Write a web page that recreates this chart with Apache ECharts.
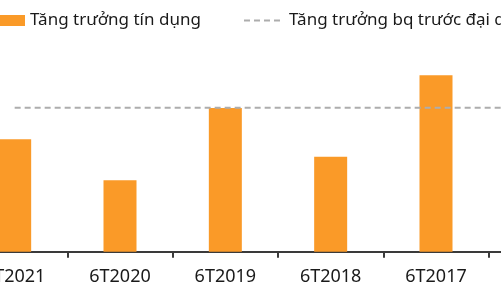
<!DOCTYPE html>
<html><head><meta charset="utf-8">
<script src="https://cdn.jsdelivr.net/npm/echarts@6/dist/echarts.min.js"></script>
<style>
html,body{margin:0;padding:0;width:501px;height:300px;overflow:hidden;background:#fff;position:relative}
#c{position:absolute;left:-38px;top:0;width:640px;height:300px}
</style></head><body>
<div id="c"></div>
<script>
const categories = ['6T2021','6T2020','6T2019','6T2018','6T2017','6T2016'];
const creditGrowth = [5.62, 3.57, 7.19, 4.75, 8.82, null];
const avgPreCovid = [7.2, 7.2, 7.2, 7.2, 7.2, 7.2];
const seriesNames = ['Tăng trưởng tín dụng', 'Tăng trưởng bq trước đại dịch'];

const FONT = 'Noto Sans';
const chart = echarts.init(document.getElementById('c'), null, {renderer:'canvas'});
chart.setOption({
  animation: false,
  textStyle: {fontFamily: FONT},
  legend: [
    {data:[{name: seriesNames[0], icon: 'rect'}], left: 33, top: 12, padding: 0, itemWidth: 30, itemHeight: 11,
     textStyle:{fontSize:17, color:'#1a1a1a', fontFamily: FONT}},
    {data:[seriesNames[1]], left: 281, top: 12, padding: 0, itemWidth: 40, itemHeight: 11,
     itemStyle: {opacity: 0},
     textStyle:{fontSize:17, color:'#1a1a1a', fontFamily: FONT}}
  ],
  grid: {left: 0, right: 8, top: 51.7, bottom: 48.3, containLabel: false},
  xAxis: {
    type: 'category', data: categories,
    axisLine: {show: true, lineStyle: {color: '#3a3a3a', width: 2}},
    axisTick: {show: true, length: 6, lineStyle: {color: '#3a3a3a', width: 2}},
    axisLabel: {fontSize: 18, color: '#1a1a1a', margin: 16, fontFamily: FONT}
  },
  yAxis: {type: 'value', min: 0, max: 10, show: false, splitLine: {show: false}},
  series: [
    {name: seriesNames[0], type: 'bar', data: creditGrowth, barWidth: 33,
     itemStyle: {color: '#FA9A28'}},
    {name: seriesNames[1], type: 'line', data: avgPreCovid, symbol: 'none',
     lineStyle: {color: '#adadad', width: 2, type: [6, 4]}, itemStyle:{color:'#adadad'}}
  ]
});
</script></body></html>
